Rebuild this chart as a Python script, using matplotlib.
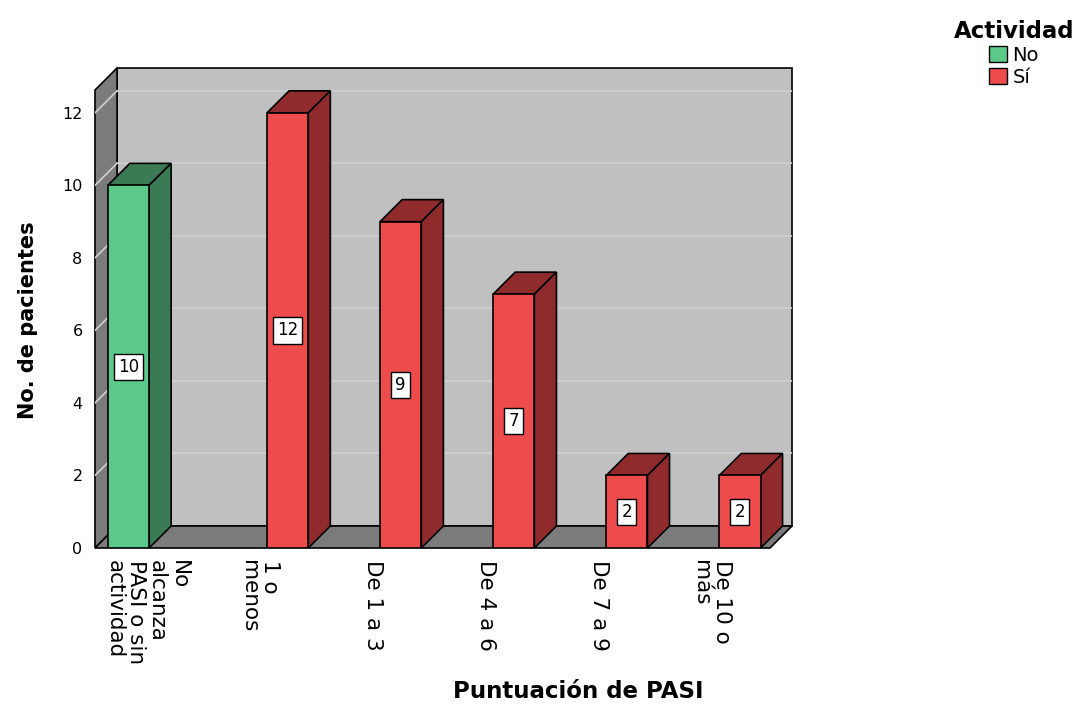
import matplotlib
matplotlib.use('Agg')
import matplotlib.pyplot as plt
from matplotlib.patches import Polygon, Patch
from matplotlib.transforms import ScaledTranslation

categories = ['No\nalcanza\nPASI o sin\nactividad', '1 o\nmenos', 'De 1 a 3',
              'De 4 a 6', 'De 7 a 9', 'De 10 o\nmás']
no_vals = [10, 0, 0, 0, 0, 0]
si_vals = [0, 12, 9, 7, 2, 2]
series = ['No', 'Sí']

green, green_dk = '#5cc98a', '#3a7b55'
red, red_dk = '#ee4b4d', '#8f2b2d'
wall, wall_dk, grid = '#c0c0c0', '#7b7b7b', '#d0d0d0'

# fake 3d: depth offset in data units
DX, DY = 0.195, 0.607
X0, XR, YTOP = -0.5, 5.47, 12.63
W, OFF = 0.365, 0.204

fig = plt.figure(figsize=(10.8, 7.04), dpi=100)
ax = fig.add_axes([95/1080, (704-548)/704, 697/1080, 480/704])
ax.set_xlim(X0, XR + DX)
ax.set_ylim(0, YTOP + DY)
for s in ax.spines.values():
    s.set_visible(False)

def face(pts, fc, z):
    ax.add_patch(Polygon(pts, closed=True, fc=fc, ec='black', lw=1.2, zorder=z, clip_on=False))

# walls
face([(X0+DX, DY), (XR+DX, DY), (XR+DX, YTOP+DY), (X0+DX, YTOP+DY)], wall, 1)
face([(X0, 0), (X0, YTOP), (X0+DX, YTOP+DY), (X0+DX, DY)], wall_dk, 1)
face([(X0, 0), (XR, 0), (XR+DX, DY), (X0+DX, DY)], wall_dk, 1)
for t in range(2, 13, 2):
    ax.plot([X0+DX, XR+DX], [t+DY, t+DY], color=grid, lw=1.2, zorder=1.5)
    ax.plot([X0, X0+DX], [t, t+DY], color=grid, lw=1.2, zorder=1.5)

xs = list(range(len(categories)))
for vals, off, fc, dk in [(no_vals, -OFF, green, green_dk), (si_vals, OFF, red, red_dk)]:
    bars = ax.bar([x + off for x in xs], vals, width=W, color=fc, edgecolor='black',
                  linewidth=1.2, zorder=4)
    for b, v in zip(bars, vals):
        if v == 0:
            b.set_visible(False)
            continue
        x1, x2 = b.get_x(), b.get_x() + b.get_width()
        face([(x1, v), (x2, v), (x2+DX, v+DY), (x1+DX, v+DY)], dk, 3)
        face([(x2, 0), (x2+DX, DY), (x2+DX, v+DY), (x2, v)], dk, 3)
        ax.text(b.get_x() + b.get_width()/2, v/2, str(v), ha='center', va='center',
                fontsize=12, zorder=6,
                bbox=dict(boxstyle='square,pad=0.25', fc='white', ec='black', lw=1))

ax.set_yticks(range(0, 13, 2))
ax.set_yticklabels([str(t) for t in range(0, 13, 2)], fontsize=11.5)
ax.set_xticks(xs)
ax.set_xticklabels(categories, rotation=-90, fontsize=15.5, va='top', ha='center',
                   multialignment='left', linespacing=1.08)
ax.tick_params(length=0, pad=9)
ax.tick_params(axis='x', pad=9)
shift = ScaledTranslation(-5/100, 0, fig.dpi_scale_trans)
for lab in ax.get_xticklabels():
    lab.set_transform(lab.get_transform() + shift)

fig.text(28/1080, 1 - 320/704, 'No. de pacientes', rotation=90, fontsize=15,
         fontweight='bold', ha='center', va='center')
fig.text(578/1080, 1 - 692/704, 'Puntuación de PASI', fontsize=16.5,
         fontweight='bold', ha='center', va='center')

handles = [Patch(fc=green, ec='black', label=series[0]),
           Patch(fc=red, ec='black', label=series[1])]
leg = fig.legend(handles=handles, loc='upper right', bbox_to_anchor=(1080/1080, 1 - 14/704),
                 frameon=False, title='Actividad', fontsize=14, handlelength=0.9,
                 handleheight=0.9, handletextpad=0.3, labelspacing=0.15,
                 title_fontproperties={'weight': 'bold', 'size': 16.5},
                 borderpad=0.2, borderaxespad=0.1)

fig.savefig('out.png', dpi=100)
